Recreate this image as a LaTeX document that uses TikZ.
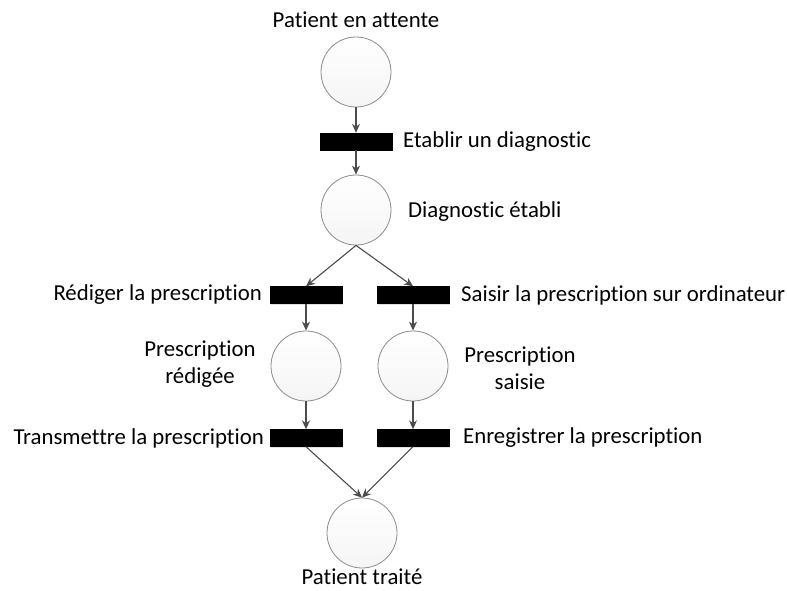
\documentclass[tikz,border=0pt]{standalone}
\usepackage{fontspec}
\setmainfont{Carlito}[RawFeature={-liga}]
\usetikzlibrary{arrows.meta,shadows}
\tikzset{
  place/.style={circle, draw=black!45, line width=0.8pt, minimum size=70pt, inner sep=0pt,
    top color=white, bottom color=black!4},
  trans/.style={rectangle, fill=black, draw=black, minimum width=72pt, minimum height=17pt, inner sep=0pt,
    drop shadow={opacity=0.25, shadow xshift=1.2pt, shadow yshift=-1.2pt}},
  arc/.style={draw=black!70, line width=1.1pt, -{Stealth[length=9pt,width=8pt]}},
  lbl/.style={font=\fontsize{22.8}{27}\selectfont, inner sep=0pt, text=black},
}
\begin{document}
\begin{tikzpicture}[x=1pt,y=-1pt]
\useasboundingbox[fill=white] (0,0) rectangle (787,590);
\node[place] (p1) at (356,72) {};
\node[trans] (t1) at (356,141.5) {};
\node[place] (p2) at (356,210) {};
\node[trans] (t2a) at (306,295) {};
\node[trans] (t2b) at (413,295) {};
\node[place] (p3a) at (306,366) {};
\node[place] (p3b) at (413,366) {};
\node[trans] (t3a) at (306,438) {};
\node[trans] (t3b) at (413,438) {};
\node[place] (p4) at (362,533) {};

\draw[arc] (p1) -- (t1);
\draw[arc] (t1) -- (p2);
\draw[arc] (p2.south) -- (t2a.north);
\draw[arc] (p2.south) -- (t2b.north);
\draw[arc] (t2a) -- (p3a);
\draw[arc] (t2b) -- (p3b);
\draw[arc] (p3a) -- (t3a);
\draw[arc] (p3b) -- (t3b);
\draw[arc] (t3a.south) -- (p4.north);
\draw[arc] (t3b.south) -- (p4.north);

\node[lbl] (l1) at (356,20) {Patient en attente};
\node[lbl, anchor=west] (l2) at (403,142) {Etablir un diagnostic};
\node[lbl, anchor=west] (l3) at (408,212) {Diagnostic établi};
\node[lbl, anchor=east] (l4) at (262,295) {Rédiger la prescription};
\node[lbl, anchor=west] (l5) at (461,295) {Saisir la prescription sur ordinateur};
\node[lbl, align=center] (l6) at (200,364) {Prescription\\rédigée};
\node[lbl, align=center] (l7) at (520,368) {Prescription\\saisie};
\node[lbl, anchor=east] (l8) at (264,438) {Transmettre la prescription};
\node[lbl, anchor=west] (l9) at (463,438) {Enregistrer la prescription};
\node[lbl] (l10) at (362,577) {Patient traité};
\end{tikzpicture}
\end{document}
